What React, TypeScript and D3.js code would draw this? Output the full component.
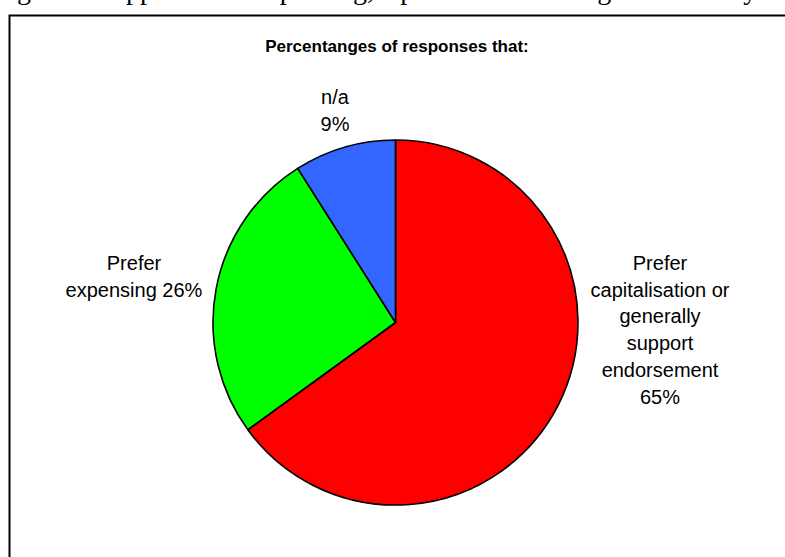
import React from "react";
import * as d3 from "d3";

const categories = ["Prefer capitalisation or generally support endorsement", "Prefer expensing", "n/a"];
const values = [65, 26, 9];
const colors = ["#FF0000", "#00FF00", "#3366FF"];
const labelLines = [
  ["Prefer", "capitalisation or", "generally", "support", "endorsement", "65%"],
  ["Prefer", "expensing 26%"],
  ["n/a", "9%"],
];
const title = "Percentanges of responses that:";
const cutText = "got the support from expensing, a position that was given to many";

const W = 785;
const H = 557;
const cx = 395.5;
const cy = 322.5;
const R = 182.5;
const lineH = 26.7;
// label block anchors (center x, first baseline y)
const labelPos = [
  { x: 660, y: 270 },
  { x: 134, y: 270 },
  { x: 335, y: 104 },
];

export default function App() {
  const pie = d3.pie<number>().sort(null).value((d) => d).startAngle(0).endAngle(2 * Math.PI);
  const arcs = pie(values);
  const arc = d3.arc<d3.PieArcDatum<number>>().innerRadius(0).outerRadius(R);
  return (
    <svg width={W} height={H} style={{ position: "absolute", left: 0, top: 0, background: "#fff" }}>
      <rect x={0} y={0} width={W} height={H} fill="#fff" />
      <text x={17} y={-1} fontFamily="'Liberation Serif','Times New Roman',serif" fontSize={28} fill="#000">
        {cutText}
      </text>
      <path d={`M9.5,${H} L9.5,15.5 L${W},15.5`} fill="none" stroke="#000" strokeWidth={2} />
      <text x={397} y={52} textAnchor="middle" fontFamily="Arial, 'Liberation Sans', sans-serif" fontWeight="bold" fontSize={17} fill="#000">
        {title}
      </text>
      <g transform={`translate(${cx},${cy})`}>
        {arcs.map((a, i) => (
          <path key={categories[i]} d={arc(a) || ""} fill={colors[i]} stroke="#000" strokeWidth={1.6} strokeLinejoin="round" />
        ))}
      </g>
      {labelLines.map((lines, i) => (
        <text key={i} textAnchor="middle" fontFamily="Arial, 'Liberation Sans', sans-serif" fontSize={20} fill="#000">
          {lines.map((l, j) => (
            <tspan key={j} x={labelPos[i].x} y={labelPos[i].y + j * lineH}>
              {l}
            </tspan>
          ))}
        </text>
      ))}
    </svg>
  );
}
